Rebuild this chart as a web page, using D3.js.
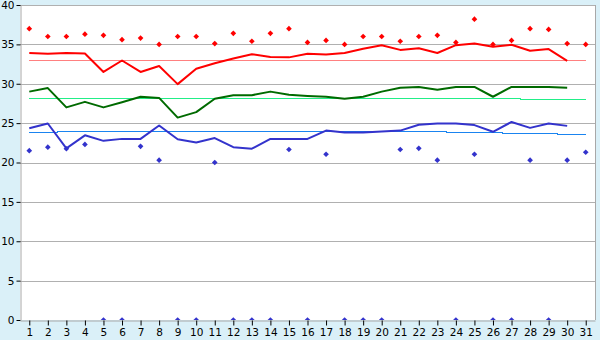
<!DOCTYPE html>
<html>

<head>
    <meta charset="utf-8">
    <title>Daily values</title>
    <script src="https://d3js.org/d3.v7.min.js"></script>
    <style>
        body { margin: 0; background: #daf0f8; }
        .axis text { font-family: "DejaVu Sans", sans-serif; font-size: 10.5px; fill: #000; }
        .axis path { stroke: #a8a8a8; }
        .axis line { stroke: #000; }
        .grid line { stroke: #b0b0b0; shape-rendering: crispEdges; }
        .lineThick { fill: none; stroke-width: 2px; stroke-linejoin: round; }
        .lineThin { fill: none; stroke-width: 1px; shape-rendering: crispEdges; }
    </style>
</head>

<body>
    <svg width="600" height="340"></svg>
    <script>
        const days = d3.range(1, 32)
        const yTicks = [0, 5, 10, 15, 20, 25, 30, 35, 40]

        // red series: mean line, reference line, daily max points
        const redLine = [33.9, 33.8, 33.9, 33.85, 31.5, 32.95, 31.5, 32.25, 29.95, 31.9,
            32.6, 33.2, 33.75, 33.4, 33.35, 33.8, 33.7, 33.9, 34.45, 34.9,
            34.3, 34.5, 33.9, 34.9, 35.1, 34.7, 34.95, 34.2, 34.4, 32.9]
        const redRef = [33.0, 33.0, 33.0, 33.0, 33.0, 33.0, 33.0, 33.0, 33.0, 33.0,
            33.0, 33.0, 33.0, 33.0, 33.0, 33.0, 33.0, 33.0, 33.0, 33.0,
            33.0, 33.0, 33.0, 33.0, 33.0, 33.0, 33.0, 33.0, 33.0, 33.0, 33.0]
        const redPts = [37.0, 36.0, 36.0, 36.3, 36.15, 35.6, 35.8, 35.0, 36.0, 36.0,
            35.1, 36.4, 35.4, 36.4, 37.0, 35.25, 35.5, 35.0, 36.0, 36.0,
            35.4, 36.0, 36.15, 35.25, 38.2, 35.0, 35.5, 37.0, 36.9, 35.1, 35.0]

        // green series: mean line and reference line
        const greenLine = [29.0, 29.45, 27.0, 27.7, 27.0, 27.65, 28.35, 28.2, 25.7, 26.4,
            28.1, 28.55, 28.55, 29.0, 28.6, 28.45, 28.35, 28.1, 28.35, 29.0,
            29.5, 29.6, 29.25, 29.6, 29.6, 28.35, 29.6, 29.6, 29.6, 29.5]
        const greenRef = [28.25, 28.25, 28.25, 28.25, 28.25, 28.25, 28.25, 28.25, 28.25, 28.25,
            28.25, 28.25, 28.25, 28.25, 28.25, 28.25, 28.25, 28.25, 28.25, 28.25,
            28.25, 28.25, 28.25, 28.25, 28.25, 28.25, 28.25, 28.12, 28.12, 28.12, 28.12]

        // blue series: mean line, reference line, daily min points
        const blueLine = [24.35, 24.95, 21.8, 23.45, 22.75, 23.0, 23.0, 24.7, 22.95, 22.55,
            23.1, 21.95, 21.75, 23.0, 23.0, 23.0, 24.05, 23.8, 23.8, 23.95,
            24.05, 24.8, 24.95, 24.95, 24.75, 23.9, 25.15, 24.4, 24.95, 24.65]
        const blueRef = [23.83, 23.83, 23.96, 23.96, 23.96, 23.96, 23.96, 23.96, 23.96, 23.96,
            23.96, 23.96, 23.96, 23.96, 23.96, 23.96, 23.96, 23.96, 23.96, 23.96,
            23.96, 23.96, 23.96, 23.83, 23.83, 23.83, 23.7, 23.7, 23.7, 23.58, 23.58]
        const bluePts = [21.5, 21.95, 21.75, 22.3, 0, 0, 22.05, 20.3, 0, 0,
            20.0, 0, 0, 0, 21.65, 0, 21.05, 0, 0, 0,
            21.65, 21.8, 20.3, 0, 21.05, 0, 0, 20.3, 0, 20.3, 21.3]

        const svg = d3.select("svg")
        const margin = { top: 5, left: 20, right: 5, bottom: 20 }
        const width = +svg.attr("width")
        const height = +svg.attr("height")

        const x = d3.scalePoint()
            .domain(days)
            .range([margin.left, width - margin.right])
            .padding(0.5)
        const y = d3.scaleLinear()
            .domain([0, 40])
            .range([height - margin.bottom, margin.top])

        svg.append("rect")
            .attr("x", margin.left).attr("y", margin.top)
            .attr("width", width - margin.right - margin.left)
            .attr("height", height - margin.bottom - margin.top)
            .attr("fill", "#fff")

        svg.append("clipPath").attr("id", "plot")
            .append("rect")
            .attr("x", margin.left).attr("y", margin.top)
            .attr("width", width - margin.right - margin.left)
            .attr("height", height - margin.bottom - margin.top)

        // grid lines
        svg.append("g").attr("class", "grid")
            .selectAll("line")
            .data(yTicks.filter(d => d > 0))
            .join("line")
            .attr("x1", margin.left).attr("x2", width - margin.right)
            .attr("y1", d => Math.round(y(d)) + 0.5).attr("y2", d => Math.round(y(d)) + 0.5)

        // right border
        svg.append("line")
            .attr("x1", width - margin.right + 0.5).attr("x2", width - margin.right + 0.5)
            .attr("y1", margin.top).attr("y2", height - margin.bottom)
            .attr("stroke", "#a8a8a8")

        const plot = svg.append("g").attr("clip-path", "url(#plot)")

        const thin = d3.line()
            .x((d, i) => x(days[i]))
            .y(d => Math.round(y(d)) + 0.5)
            .curve(d3.curveStep)
        const thick = d3.line()
            .x((d, i) => x(days[i]))
            .y(d => y(d))

        const refs = [[redRef, "#ff8080"], [greenRef, "#22ee88"], [blueRef, "#1a84f0"]]
        refs.forEach(([data, c]) => {
            plot.append("path").attr("class", "lineThin")
                .datum(data).attr("d", thin).attr("stroke", c)
        })

        const mains = [[redLine, "#ff0000"], [greenLine, "#006a00"], [blueLine, "#3333cc"]]
        mains.forEach(([data, c]) => {
            plot.append("path").attr("class", "lineThick")
                .datum(data).attr("d", thick).attr("stroke", c)
        })

        const diamond = d3.symbol().type(d3.symbolSquare).size(16)
        const pts = [[redPts, "#ff0000"], [bluePts, "#3333cc"]]
        pts.forEach(([data, c]) => {
            plot.append("g").selectAll("path")
                .data(data)
                .join("path")
                .attr("d", diamond)
                .attr("fill", c)
                .attr("transform", (d, i) => `translate(${x(days[i])},${y(d)}) rotate(45)`)
        })

        // axes
        const yAxis = d3.axisLeft(y).tickValues(yTicks).tickSize(4).tickSizeOuter(0).tickPadding(2)
        const xAxis = d3.axisBottom(x).tickSize(5).tickSizeOuter(0).tickPadding(3)

        const gy = svg.append("g").attr("class", "axis")
            .attr("transform", `translate(${margin.left + 0.5},0)`)
            .call(yAxis)
        gy.selectAll(".tick line").attr("stroke", "#555")

        svg.append("g").attr("class", "axis")
            .attr("transform", `translate(0,${height - margin.bottom + 0.5})`)
            .call(xAxis)
    </script>
</body>

</html>
